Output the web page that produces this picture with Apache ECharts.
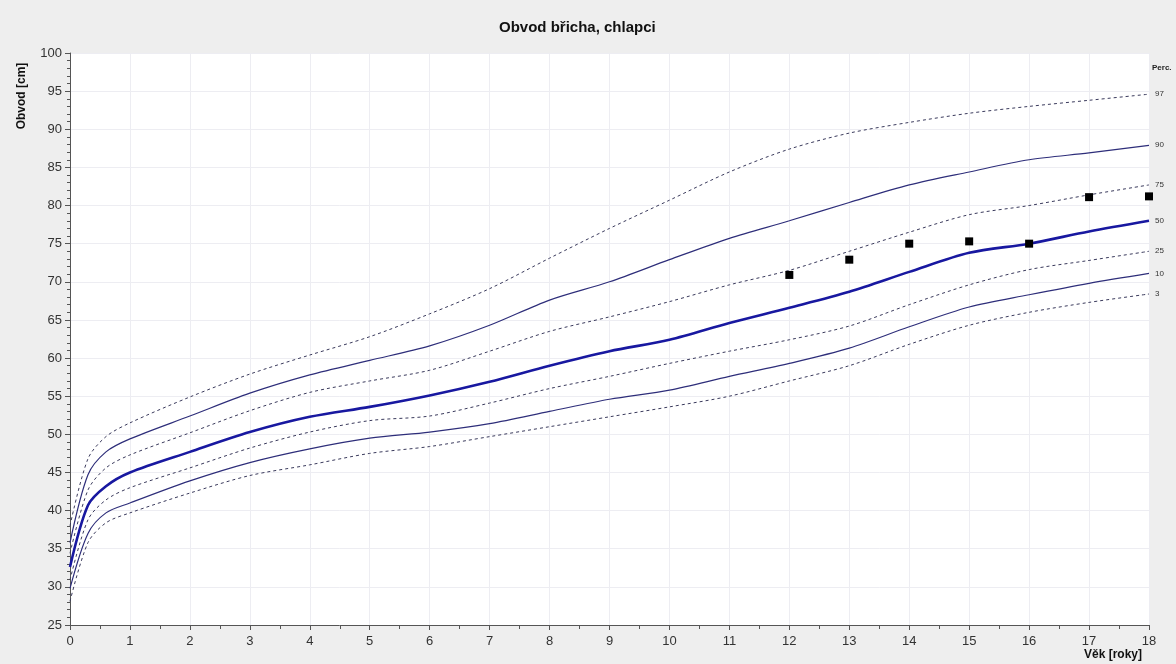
<!DOCTYPE html>
<html>
<head>
<meta charset="utf-8">
<script src="https://cdn.jsdelivr.net/npm/echarts@6/dist/echarts.min.js"></script>
<style>
html,body{margin:0;padding:0;background:#eeeeee;}
#chart{width:1176px;height:664px;}
</style>
</head>
<body>
<div id="chart"></div>
<script>
const ages = [0, 0.3, 0.6, 1, 2, 3, 4, 5, 6, 7, 8, 9, 10, 11, 12, 13, 14, 15, 16, 17, 18];
const p97 = [38.0, 46.8, 49.7, 51.5, 54.9, 57.9, 60.4, 62.8, 65.8, 69.1, 73.1, 77.0, 80.7, 84.4, 87.4, 89.5, 90.9, 92.1, 93.0, 93.8, 94.6];
const p90 = [35.8, 44.7, 47.7, 49.4, 52.4, 55.4, 57.8, 59.7, 61.6, 64.3, 67.6, 70.0, 72.9, 75.7, 78.0, 80.4, 82.7, 84.4, 86.0, 86.9, 87.9];
const p75 = [34.4, 42.7, 45.6, 47.3, 50.2, 53.1, 55.5, 57.0, 58.4, 60.9, 63.5, 65.4, 67.4, 69.6, 71.5, 74.0, 76.5, 78.8, 80.0, 81.4, 82.7];
const p50 = [32.6, 40.7, 43.2, 45.0, 47.7, 50.3, 52.3, 53.6, 55.1, 56.9, 59.0, 60.9, 62.4, 64.6, 66.6, 68.7, 71.3, 73.8, 75.0, 76.6, 78.0];
const p25 = [30.9, 38.8, 41.4, 43.0, 45.6, 48.2, 50.3, 51.8, 52.4, 54.1, 56.0, 57.6, 59.3, 60.9, 62.4, 64.2, 67.0, 69.6, 71.6, 72.8, 74.0];
const p10 = [29.8, 37.0, 39.7, 41.0, 43.9, 46.3, 48.1, 49.5, 50.3, 51.4, 53.0, 54.6, 55.8, 57.6, 59.3, 61.3, 64.1, 66.7, 68.3, 69.8, 71.1];
const p3  = [28.1, 35.8, 38.4, 39.7, 42.3, 44.6, 46.0, 47.5, 48.4, 49.7, 51.0, 52.3, 53.6, 55.0, 57.0, 59.0, 61.8, 64.3, 66.0, 67.3, 68.4];
const measAges = [12, 13, 14, 15, 16, 17, 18];
const measVals = [70.9, 72.9, 75.0, 75.3, 75.0, 81.1, 81.2];
const percNames = ['97', '90', '75', '50', '25', '10', '3'];

const percData = [p97, p90, p75, p50, p25, p10, p3];
const styles = [
  {type: [3, 3], width: 1, color: '#3a3a5c'},
  {type: 'solid', width: 1.2, color: '#2e2e7a'},
  {type: [3, 3], width: 1, color: '#3a3a5c'},
  {type: 'solid', width: 2.6, color: '#1818a0'},
  {type: [3, 3], width: 1, color: '#3a3a5c'},
  {type: 'solid', width: 1.2, color: '#2e2e7a'},
  {type: [3, 3], width: 1, color: '#3a3a5c'}
];
const pair = (xs, ys) => xs.map((x, i) => [x, ys[i]]);

const series = percData.map((d, i) => ({
  name: percNames[i],
  type: 'line',
  data: pair(ages, d),
  showSymbol: false,
  silent: true,
  smooth: 0.3,
  lineStyle: {type: styles[i].type, width: styles[i].width, color: styles[i].color},
  itemStyle: {color: styles[i].color},
  endLabel: {show: true, formatter: percNames[i], distance: 6, fontSize: 8, color: '#333', fontFamily: 'Liberation Sans'},
  z: i === 3 ? 3 : 2
}));
series.push({
  name: 'meas',
  type: 'scatter',
  data: pair(measAges, measVals),
  symbol: 'rect',
  symbolSize: 8,
  itemStyle: {color: '#000', opacity: 1},
  z: 5
});

const chart = echarts.init(document.getElementById('chart'));
chart.setOption({
  backgroundColor: '#eeeeee',
  animation: false,
  title: {
    text: 'Obvod břicha, chlapci',
    left: 494, top: 15,
    textStyle: {fontFamily: 'Liberation Sans', fontSize: 15, fontWeight: 'bold', color: '#111'}
  },
  grid: {left: 70, right: 27, top: 53, bottom: 39, show: true, backgroundColor: '#ffffff', borderWidth: 0},
  xAxis: {
    type: 'value', min: 0, max: 18, interval: 1,
    axisLine: {show: true, onZero: false, lineStyle: {color: '#555', width: 1}},
    axisTick: {show: true, length: 5, lineStyle: {color: '#555'}},
    minorTick: {show: true, splitNumber: 2, length: 4, lineStyle: {color: '#555'}},
    axisLabel: {fontFamily: 'Liberation Sans', fontSize: 13, color: '#333', margin: 10},
    splitLine: {show: true, lineStyle: {color: '#ededf2', width: 1}}
  },
  yAxis: {
    type: 'value', min: 25, max: 100, interval: 5,
    axisLine: {show: true, onZero: false, lineStyle: {color: '#555', width: 1}},
    axisTick: {show: true, length: 5, lineStyle: {color: '#555'}},
    minorTick: {show: true, splitNumber: 5, length: 3, lineStyle: {color: '#555'}},
    axisLabel: {fontFamily: 'Liberation Sans', fontSize: 13, color: '#333', margin: 8},
    splitLine: {show: true, lineStyle: {color: '#ededf2', width: 1}}
  },
  graphic: [
    {type: 'text', x: 22, y: 96, rotation: Math.PI / 2,
     style: {text: 'Obvod [cm]', font: 'bold 12px "Liberation Sans"', fill: '#111', textAlign: 'center', textVerticalAlign: 'middle'}},
    {type: 'text', x: 1142, y: 655,
     style: {text: 'Věk [roky]', font: 'bold 12px "Liberation Sans"', fill: '#111', textAlign: 'right', textVerticalAlign: 'middle'}},
    {type: 'text', x: 1152, y: 68,
     style: {text: 'Perc.', font: 'bold 8px "Liberation Sans"', fill: '#222', textAlign: 'left', textVerticalAlign: 'middle'}}
  ],
  series: series
});
</script>
</body>
</html>
